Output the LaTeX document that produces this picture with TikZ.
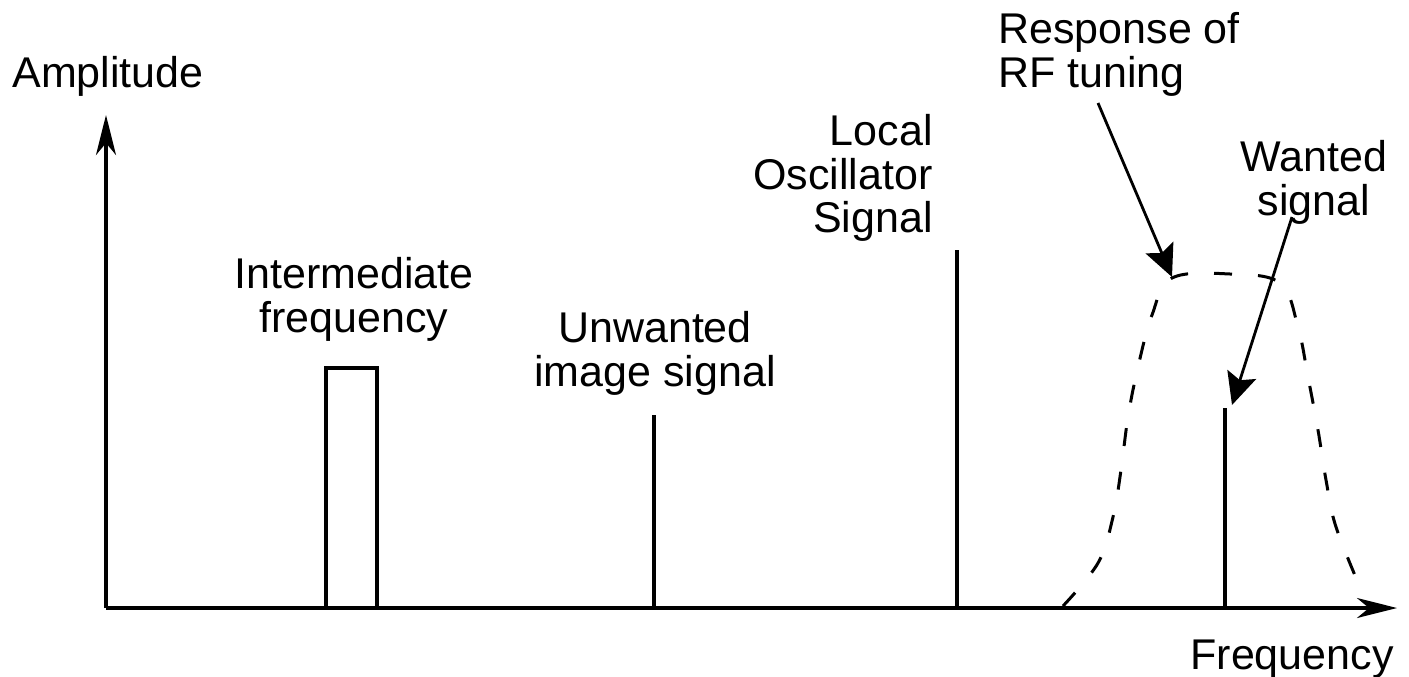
\documentclass[tikz,border=0pt]{standalone}
\usepackage{fontspec}
\setmainfont{Liberation Sans}
\usetikzlibrary{arrows.meta}

\tikzset{
  lbl/.style={inner sep=0pt, font=\fontsize{21.5}{21.8}\selectfont},
  axis/.style={line width=1.7pt, -{Stealth[length=20pt,width=10pt,inset=6pt]}},
  spike/.style={line width=1.7pt},
  pointer/.style={line width=1.4pt, -{Stealth[length=16pt,width=15pt,inset=3pt]}},
  tuning/.style={line width=1.5pt, dash pattern=on 9pt off 13pt}
}

\begin{document}
\begin{tikzpicture}[x=0.5pt, y=-0.5pt]
  \useasboundingbox (0,0) rectangle (1409,676);

  % axes
  \coordinate (O) at (106,608);
  \coordinate (ytop) at (106,115);
  \coordinate (xend) at (1397,608);
  \draw[axis] (O) -- (ytop);
  \draw[axis] (O) -- (xend);

  % spectral components
  \draw[spike] (326,608) rectangle (377,368);
  \coordinate (img) at (654,415);
  \coordinate (imgb) at (654,608);
  \draw[spike] (imgb) -- (img);
  \coordinate (lo) at (957,250);
  \coordinate (lob) at (957,608);
  \draw[spike] (lob) -- (lo);
  \coordinate (want) at (1225,408);
  \coordinate (wantb) at (1225,608);
  \draw[spike] (wantb) -- (want);

  % RF tuning passband
  \draw[tuning] plot[smooth, tension=0.6] coordinates {
    (1063,606) (1098,563) (1113,517) (1121,470) (1128,417) (1138,367)
    (1152,315) (1172,278) (1230,274) (1280,283) (1298,327) (1308,377)
    (1318,430) (1326,480) (1336,527) (1362,592)};

  % labels
  \node[lbl, anchor=north west] (amp) at (12,56) {Amplitude};
  \node[lbl, anchor=north, align=center] (iflbl) at (354,257) {Intermediate\\frequency};
  \node[lbl, anchor=north, align=center] (imglbl) at (655,311) {Unwanted\\image signal};
  \node[lbl, anchor=north east, align=right] (lolbl) at (933,114) {Local\\Oscillator\\Signal};
  \node[lbl, anchor=north west, align=left] (rflbl) at (998,12) {Response of\\RF tuning};
  \node[lbl, anchor=north, align=center] (wlbl) at (1314,140) {Wanted\\signal};
  \node[lbl, anchor=north west] (freq) at (1190,640) {Frequency};

  % pointers
  \coordinate (rfstart) at (1098,103);
  \coordinate (rfpeak) at (1172,277);
  \draw[pointer] (rfstart) -- (rfpeak);
  \coordinate (wstart) at (1292,217);
  \coordinate (wtip) at (1232,405);
  \draw[pointer] (wstart) -- (wtip);
\end{tikzpicture}
\end{document}
